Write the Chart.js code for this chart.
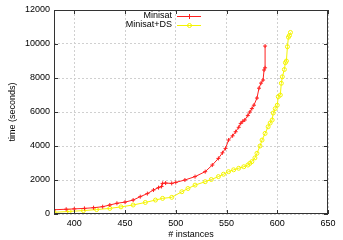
<!DOCTYPE html>
<html>
<head>
<meta charset="utf-8">
<script src="https://cdn.jsdelivr.net/npm/chart.js@4"></script>
<style>
  html, body { margin: 0; padding: 0; background: #fff; }
  #wrap { width: 343px; height: 240px; }
</style>
</head>
<body>
<div id="wrap"><canvas id="chart" width="343" height="240"></canvas></div>
<script>
const xTicks = [400, 450, 500, 550, 600, 650];
const yTicks = [0, 2000, 4000, 6000, 8000, 10000, 12000];

const minisatX = [380, 392, 400, 410, 419, 428, 435, 442, 450, 458, 465, 472, 478, 483, 486, 487, 490, 496, 500, 509, 519, 529, 536, 542, 546, 549, 552, 556, 559, 562, 564, 566, 568, 571, 573, 575, 577, 580, 582, 584, 586, 587, 588, 588];
const minisatY = [250, 280, 300, 330, 370, 430, 530, 630, 700, 820, 1020, 1200, 1410, 1550, 1620, 1800, 1820, 1800, 1860, 2000, 2200, 2490, 2880, 3270, 3600, 3860, 4350, 4600, 4840, 5100, 5330, 5450, 5530, 5800, 6000, 6200, 6400, 6820, 7400, 7700, 7880, 8470, 8600, 9880];

const dsX = [380, 395, 409, 422, 435, 446, 458, 470, 480, 487, 496, 506, 512, 519, 529, 535, 542, 547, 552, 557, 562, 567, 571, 573, 575, 578, 580, 583, 585, 588, 591, 593, 595, 596, 598, 600, 601, 603, 604, 605, 607, 608, 609, 610, 611, 612, 613];
const dsY = [100, 150, 200, 260, 330, 420, 530, 680, 820, 920, 980, 1310, 1500, 1700, 1900, 2030, 2200, 2340, 2490, 2600, 2690, 2780, 2880, 2980, 3080, 3300, 3570, 4000, 4350, 4740, 5130, 5350, 5530, 5940, 6200, 6400, 6900, 7000, 7690, 8070, 8500, 8900, 9000, 9840, 10400, 10500, 10680];

const seriesNames = ['Minisat', 'Minisat+DS'];
const red = '#ff2020';
const yellow = '#f4f400';
const font = '"Liberation Sans", Arial, sans-serif';

function pairs(xs, ys) {
    return xs.map((x, i) => ({ x: x, y: ys[i] }));
}

// gnuplot style frame, inward ticks and a legend inside the plot
const framePlugin = {
    id: 'frame',
    afterDraw(chart) {
        const ctx = chart.ctx;
        const a = chart.chartArea;
        const xs = chart.scales.x, ys = chart.scales.y;
        ctx.save();
        ctx.strokeStyle = '#333';
        ctx.lineWidth = 1;
        ctx.strokeRect(a.left + 0.5, a.top + 0.5, a.right - a.left - 1, a.bottom - a.top - 1);
        ctx.beginPath();
        xTicks.forEach(v => {
            const p = Math.round(xs.getPixelForValue(v)) + 0.5;
            ctx.moveTo(p, a.bottom); ctx.lineTo(p, a.bottom - 4);
            ctx.moveTo(p, a.top); ctx.lineTo(p, a.top + 4);
        });
        yTicks.forEach(v => {
            const p = Math.round(ys.getPixelForValue(v)) + 0.5;
            ctx.moveTo(a.left, p); ctx.lineTo(a.left + 4, p);
            ctx.moveTo(a.right, p); ctx.lineTo(a.right - 4, p);
        });
        ctx.stroke();

        // legend
        ctx.font = '9px ' + font;
        ctx.textAlign = 'right';
        ctx.textBaseline = 'middle';
        const ly = [16, 25];
        const cols = [red, yellow];
        seriesNames.forEach((name, i) => {
            ctx.fillStyle = '#000';
            ctx.fillText(name, 172, ly[i]);
            ctx.strokeStyle = cols[i];
            ctx.lineWidth = 1;
            ctx.beginPath();
            ctx.moveTo(177, ly[i] + 0.5); ctx.lineTo(201, ly[i] + 0.5);
            ctx.stroke();
            ctx.beginPath();
            if (i === 0) {
                ctx.moveTo(189.5, ly[i] - 2); ctx.lineTo(189.5, ly[i] + 3);
                ctx.moveTo(187, ly[i] + 0.5); ctx.lineTo(192, ly[i] + 0.5);
            } else {
                ctx.arc(189.5, ly[i] + 0.5, 2, 0, Math.PI * 2);
            }
            ctx.stroke();
        });
        ctx.restore();
    }
};

const tickOpts = {
    color: '#000',
    padding: 4,
    font: { size: 9, family: font },
    callback: v => String(v)
};

new Chart(document.getElementById('chart'), {
    type: 'line',
    data: {
        datasets: [{
            label: seriesNames[0],
            data: pairs(minisatX, minisatY),
            borderColor: red,
            backgroundColor: red,
            borderWidth: 1,
            pointStyle: 'cross',
            pointRadius: 2,
            pointBorderWidth: 1,
            fill: false,
            tension: 0
        }, {
            label: seriesNames[1],
            data: pairs(dsX, dsY),
            borderColor: yellow,
            backgroundColor: 'rgba(0,0,0,0)',
            borderWidth: 1,
            pointStyle: 'circle',
            pointRadius: 2,
            pointBorderWidth: 1,
            fill: false,
            tension: 0
        }]
    },
    options: {
        responsive: false,
        animation: false,
        layout: { padding: { top: 10, right: 15, left: 0, bottom: 0 } },
        plugins: { legend: { display: false }, tooltip: { enabled: false } },
        scales: {
            x: {
                type: 'linear',
                min: 380,
                max: 650,
                afterBuildTicks: s => { s.ticks = xTicks.map(v => ({ value: v })); },
                afterFit: s => { s.height = 26; },
                grid: { color: '#d0d0d0', drawTicks: false },
                border: { display: false, dash: [2, 2] },
                ticks: tickOpts,
                title: { display: true, text: '# instances', color: '#000', padding: 0, font: { size: 9, family: font } }
            },
            y: {
                min: 0,
                max: 12000,
                afterBuildTicks: s => { s.ticks = yTicks.map(v => ({ value: v })); },
                afterFit: s => { s.width = 54; },
                grid: { color: '#d0d0d0', drawTicks: false },
                border: { display: false, dash: [2, 2] },
                ticks: tickOpts,
                title: { display: true, text: 'time (seconds)', color: '#000', padding: { top: 7, bottom: 0 }, font: { size: 9, family: font } }
            }
        }
    },
    plugins: [framePlugin]
});
</script>
</body>
</html>
